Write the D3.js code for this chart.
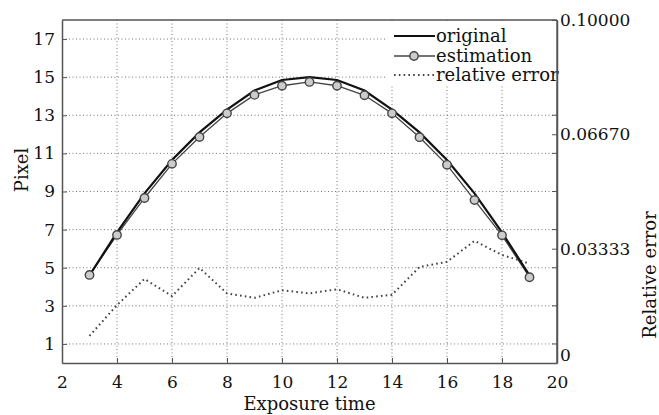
<!DOCTYPE html>
<html>
<head>
<meta charset="utf-8">
<script src="https://cdn.jsdelivr.net/npm/d3@7"></script>
<style>
    body { margin: 0; background: #fff; }
    text { font-family: "DejaVu Serif", serif; fill: #111; }
</style>
</head>
<body>
<div id="chart"></div>
<script>
// Data
var exposure = [3, 4, 5, 6, 7, 8, 9, 10, 11, 12, 13, 14, 15, 16, 17, 18, 19];
var original = [4.6, 6.85, 8.9, 10.65, 12.1, 13.3, 14.3, 14.85, 15.0, 14.85, 14.3, 13.3, 12.1, 10.65, 8.9, 6.85, 4.6];
var estimation = [4.62, 6.72, 8.66, 10.45, 11.86, 13.1, 14.07, 14.55, 14.75, 14.55, 14.05, 13.1, 11.85, 10.4, 8.55, 6.7, 4.5];
var relError = [0.0079, 0.0169, 0.0245, 0.0195, 0.0277, 0.0203, 0.019, 0.0212, 0.0203, 0.0215, 0.019, 0.0199, 0.028, 0.0295, 0.0356, 0.0315, 0.029];

// Ticks
var xTicks = [2, 4, 6, 8, 10, 12, 14, 16, 18, 20];
var leftTicks = [1, 3, 5, 7, 9, 11, 13, 15, 17];
var rightTicks = [0, 0.03333, 0.0667, 0.1];
var rightTickLabels = ["0", "0.03333", "0.06670", "0.10000"];
var legendNames = ["original", "estimation", "relative error"];

// Size
var svgWidth = 659;
var svgHeight = 415;
var margins = {top: 20, bottom: 52, left: 62, right: 102};
var width = svgWidth - margins.left - margins.right;
var height = svgHeight - margins.top - margins.bottom;

var svg = d3.select("#chart")
    .append("svg")
        .attr("width", svgWidth)
        .attr("height", svgHeight)
    .append("g")
        .attr("transform", "translate(" + margins.left + "," + margins.top + ")");

// Scales
var x = d3.scaleLinear().domain([2, 20]).range([0, width]);
var yLeft = d3.scaleLinear().domain([0, 18]).range([height, 0]);
var yRight = d3.scaleLinear().domain([0, 0.1]).range([height, 0]);

// Grid (dotted)
var gridColor = "#777";
svg.append("g").selectAll("line")
    .data(xTicks.slice(1, -1))
    .join("line")
        .attr("x1", d => x(d)).attr("x2", d => x(d))
        .attr("y1", 0).attr("y2", height)
        .attr("stroke", gridColor)
        .attr("stroke-width", 1)
        .attr("stroke-dasharray", "1,2.5");
svg.append("g").selectAll("line")
    .data(leftTicks)
    .join("line")
        .attr("x1", 0).attr("x2", width)
        .attr("y1", d => yLeft(d)).attr("y2", d => yLeft(d))
        .attr("stroke", gridColor)
        .attr("stroke-width", 1)
        .attr("stroke-dasharray", "1,2.5");

// Axes, ticks point inward
var bottomAxis = svg.append("g")
    .attr("transform", "translate(0," + height + ")")
    .call(d3.axisBottom(x).tickValues(xTicks).tickFormat(d3.format("d")).tickSizeInner(-5).tickSizeOuter(0).tickPadding(13));
var leftAxis = svg.append("g")
    .call(d3.axisLeft(yLeft).tickValues(leftTicks).tickFormat(d3.format("d")).tickSizeInner(-5).tickSizeOuter(0).tickPadding(7));
var rightAxis = svg.append("g")
    .attr("transform", "translate(" + width + ",0)")
    .call(d3.axisRight(yRight).tickValues(rightTicks).tickFormat((d, i) => rightTickLabels[i]).tickSizeInner(-5).tickSizeOuter(0).tickPadding(3));
// mirrored left ticks on the right edge
svg.append("g").selectAll("line")
    .data(leftTicks)
    .join("line")
        .attr("x1", width - 5).attr("x2", width)
        .attr("y1", d => yLeft(d)).attr("y2", d => yLeft(d))
        .attr("stroke", "#555");

[bottomAxis, leftAxis, rightAxis].forEach(function (a) {
    a.selectAll(".domain").attr("stroke", "#555").attr("stroke-width", 1.5);
    a.selectAll(".tick line").attr("stroke", "#555");
    a.selectAll("text").attr("font-size", 17).attr("font-family", "DejaVu Serif, serif").attr("fill", "#111");
});
// the 0 of the right axis sits a bit above the corner
rightAxis.selectAll(".tick text").filter(d => d === 0).attr("dy", "-0.15em");

// top border
svg.append("line")
    .attr("x1", 0).attr("x2", width)
    .attr("y1", 0).attr("y2", 0)
    .attr("stroke", "#555").attr("stroke-width", 1.5);

// Lines
var origData = exposure.map((d, i) => ({x: d, y: original[i]}));
var estData = exposure.map((d, i) => ({x: d, y: estimation[i]}));
var errData = exposure.map((d, i) => ({x: d, y: relError[i]}));

var lineLeft = d3.line().x(d => x(d.x)).y(d => yLeft(d.y));
var lineRight = d3.line().x(d => x(d.x)).y(d => yRight(d.y));

svg.append("path")
    .attr("d", lineRight(errData))
    .attr("fill", "none")
    .attr("stroke", "#444")
    .attr("stroke-width", 2)
    .attr("stroke-dasharray", "1.6,3.2");

svg.append("path")
    .attr("d", lineLeft(estData))
    .attr("fill", "none")
    .attr("stroke", "#444")
    .attr("stroke-width", 1.3);

svg.append("path")
    .attr("d", lineLeft(origData))
    .attr("fill", "none")
    .attr("stroke", "#111")
    .attr("stroke-width", 2.2);

svg.append("g").selectAll("circle")
    .data(estData)
    .join("circle")
        .attr("cx", d => x(d.x))
        .attr("cy", d => yLeft(d.y))
        .attr("r", 4.2)
        .attr("fill", "#ccc")
        .attr("stroke", "#444")
        .attr("stroke-width", 1.4);

// Legend
var legend = svg.append("g").attr("transform", "translate(" + (width - 170) + ",2)");
legend.append("rect")
    .attr("x", 0).attr("y", 0)
    .attr("width", 170).attr("height", 62)
    .attr("fill", "#fff");
var rowY = [14, 34, 53];
legend.selectAll("text")
    .data(legendNames)
    .join("text")
        .attr("x", 49)
        .attr("y", (d, i) => rowY[i])
        .attr("dy", "0.32em")
        .attr("font-size", 18)
        .text(d => d);
legend.append("line")
    .attr("x1", 7).attr("x2", 48).attr("y1", rowY[0]).attr("y2", rowY[0])
    .attr("stroke", "#111").attr("stroke-width", 2.2);
legend.append("line")
    .attr("x1", 7).attr("x2", 48).attr("y1", rowY[1]).attr("y2", rowY[1])
    .attr("stroke", "#444").attr("stroke-width", 1.3);
legend.append("circle")
    .attr("cx", 27).attr("cy", rowY[1]).attr("r", 4.2)
    .attr("fill", "#ccc").attr("stroke", "#444").attr("stroke-width", 1.4);
legend.append("line")
    .attr("x1", 7).attr("x2", 48).attr("y1", rowY[2]).attr("y2", rowY[2])
    .attr("stroke", "#444").attr("stroke-width", 2)
    .attr("stroke-dasharray", "1.6,3.2");
// right border redrawn over the legend
svg.append("line")
    .attr("x1", width).attr("x2", width)
    .attr("y1", 0).attr("y2", height)
    .attr("stroke", "#555").attr("stroke-width", 1.5);

// Axis titles
svg.append("text")
    .attr("x", width / 2)
    .attr("y", height + 47)
    .attr("text-anchor", "middle")
    .attr("font-size", 18)
    .text("Exposure time");
svg.append("text")
    .attr("transform", "translate(" + (22 - margins.left) + "," + 150 + ") rotate(-90)")
    .attr("text-anchor", "middle")
    .attr("dy", "0.35em")
    .attr("font-size", 18)
    .text("Pixel");
svg.append("text")
    .attr("transform", "translate(" + (650 - margins.left) + "," + 255 + ") rotate(-90)")
    .attr("text-anchor", "middle")
    .attr("dy", "0.35em")
    .attr("font-size", 18)
    .text("Relative error");
</script>
</body>
</html>
